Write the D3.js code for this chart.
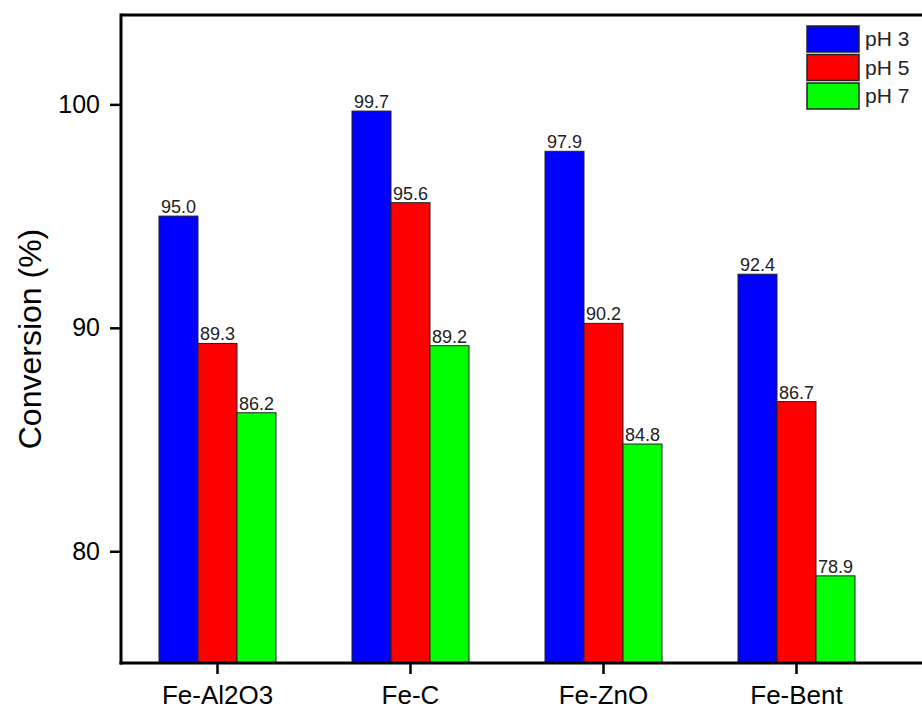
<!DOCTYPE html>
<html>
<head>
<meta charset="utf-8">
<script src="https://cdn.jsdelivr.net/npm/d3@7/dist/d3.min.js"></script>
<style>
  html, body { margin: 0; padding: 0; background: #fff; }
  svg { display: block; }
</style>
</head>
<body>
<script>
const categories = ["Fe-Al2O3", "Fe-C", "Fe-ZnO", "Fe-Bent"];
const seriesNames = ["pH 3", "pH 5", "pH 7"];
const pH3 = [95.0, 99.7, 97.9, 92.4];
const pH5 = [89.3, 95.6, 90.2, 86.7];
const pH7 = [86.2, 89.2, 84.8, 78.9];
const yTicks = [80, 90, 100];
const colors = ["#0000FF", "#FF0000", "#00FF00"];

const series = [pH3, pH5, pH7];
const W = 922, H = 711;
const mLeft = 121, mTop = 15, mBottom = 663;

const svg = d3.select("body").append("svg").attr("width", W).attr("height", H);

const y = d3.scaleLinear().domain([75, 104]).range([mBottom, mTop]);
const x0 = d3.scaleBand().domain(categories).range([mLeft, mLeft + 4 * 193]).padding(0);
const groupW = 117;
const x1 = d3.scaleBand().domain(seriesNames).range([0, groupW]).padding(0);

const font = "'Liberation Sans', Arial, sans-serif";

// bars
categories.forEach((c, i) => {
  const gx = x0(c) + x0.bandwidth() / 2 - groupW / 2;
  seriesNames.forEach((s, j) => {
    const v = series[j][i];
    svg.append("rect")
      .attr("x", gx + x1(s))
      .attr("y", y(v))
      .attr("width", x1.bandwidth())
      .attr("height", mBottom - y(v))
      .attr("fill", colors[j])
      .attr("stroke", "#222")
      .attr("stroke-width", 1);
    svg.append("text")
      .attr("x", gx + x1(s) + x1.bandwidth() / 2)
      .attr("y", y(v) - 3)
      .attr("text-anchor", "middle")
      .attr("font-family", font)
      .attr("font-size", 18)
      .attr("fill", "#222")
      .text(v.toFixed(1));
  });
});

// top frame line
svg.append("line").attr("x1", mLeft).attr("x2", W).attr("y1", mTop).attr("y2", mTop)
  .attr("stroke", "#000").attr("stroke-width", 3);

const yAxis = d3.axisLeft(y).tickValues(yTicks).tickSize(11).tickPadding(10).tickFormat(d3.format("d"));
const gy = svg.append("g").attr("transform", `translate(${mLeft},0)`).call(yAxis);
gy.select(".domain").attr("stroke-width", 3).attr("d", `M0,${mTop - 1.5}V${mBottom + 1.5}`);
gy.selectAll(".tick line").attr("stroke-width", 2.5);
gy.selectAll(".tick text").attr("font-family", font).attr("font-size", 25).attr("fill", "#000");

const xAxis = d3.axisBottom(x0).tickSize(11).tickPadding(12);
const gxa = svg.append("g").attr("transform", `translate(0,${mBottom})`).call(xAxis);
gxa.select(".domain").attr("stroke-width", 3).attr("d", `M${mLeft - 1.5},0H${W}`);
gxa.selectAll(".tick line").attr("stroke-width", 2.5);
gxa.selectAll(".tick text").attr("font-family", font).attr("font-size", 26).attr("fill", "#000");

// y title
svg.append("text")
  .attr("transform", "translate(41,339) rotate(-90)")
  .attr("text-anchor", "middle")
  .attr("font-family", font)
  .attr("font-size", 32)
  .attr("fill", "#000")
  .text("Conversion (%)");

// legend
const lg = svg.append("g");
seriesNames.forEach((s, j) => {
  const yy = 26 + j * 28.5;
  lg.append("rect").attr("x", 807).attr("y", yy).attr("width", 52).attr("height", 26)
    .attr("fill", colors[j]).attr("stroke", "#222").attr("stroke-width", 1.5);
  lg.append("text").attr("x", 865).attr("y", yy + 13).attr("dy", "0.35em")
    .attr("font-family", font).attr("font-size", 21).attr("fill", "#222").text(s);
});
</script>
</body>
</html>
